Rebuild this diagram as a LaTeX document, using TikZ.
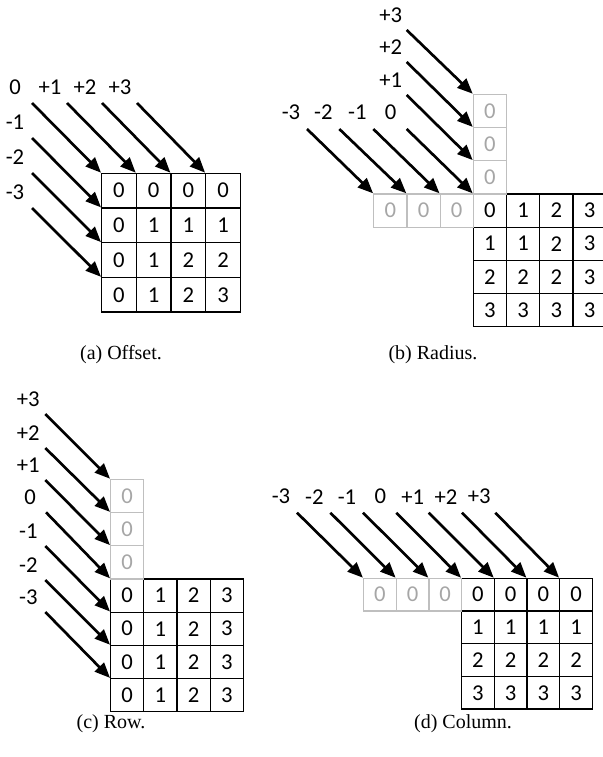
\documentclass[tikz,border=0pt]{standalone}
\usepackage{fontspec}
\setmainfont{Carlito}
\newfontfamily\capfont{Liberation Serif}
\usetikzlibrary{arrows.meta}
\definecolor{ghostline}{HTML}{BFBFBF}
\definecolor{ghosttext}{HTML}{A6A6A6}

\begin{document}
\begin{tikzpicture}[x=0.75pt,y=-0.75pt,
    cell/.style={draw,line width=0.9pt,minimum size=#1,inner sep=0pt,anchor=north west,font=\fontsize{17}{19}\selectfont},
    cell/.default=24.9pt,
    ghost/.style={cell=#1,draw=ghostline,text=ghosttext},
    ghost/.default=24.9pt,
    lbl/.style={inner sep=1pt,font=\fontsize{17}{19}\selectfont},
    arr/.style={line width=2pt,-{Triangle[length=11.5pt,width=9.5pt]}},
    subcap/.style={font=\capfont\fontsize{15}{17}\selectfont}]
  \useasboundingbox (0,0) rectangle (603,757);

  % (a) offset
  \foreach \r in {0,...,3}
    \foreach \c in {0,...,3}{
      \pgfmathtruncatemacro\v{min(\r,\c)}
      \node[cell=26pt] (a\r\c) at (101+34.7*\c,172.7+34.7*\r) {\v};
    }
  \foreach \t [count=\i from 0] in {0,+1,+2,+3}{
    \node[lbl] (la\i) at (15+35*\i,87) {\t};
    \draw[arr] ([shift={(17,16)}]la\i.center) -- (a0\i.north west);
  }
  \foreach \i/\y in {1/122,2/157,3/192}{
    \node[lbl] (lam\i) at (15,\y) {-\i};
    \draw[arr] ([shift={(17,16)}]lam\i.center) -- (a\i0.north west);
  }
  \node[subcap] (capa) at (121,355) {(a) Offset.};

  % (b) radius
  \foreach \r in {0,...,3}
    \foreach \c in {0,...,3}{
      \pgfmathtruncatemacro\v{max(\r,\c)}
      \node[cell] (b\r\c) at (472.7+33.2*\c,193.3+33.2*\r) {\v};
    }
  \foreach \k in {1,2,3}{
    \node[ghost] (bt\k) at (472.7,193.3-33.2*\k) {0};
    \node[ghost] (bl\k) at (472.7-33.2*\k,193.3) {0};
  }
  \node[lbl] (lb0) at (390.7,112) {0};
  \draw[arr] ([shift={(16,17)}]lb0.center) -- (b00.north west);
  \foreach \k/\y in {1/80,2/47,3/15}{
    \node[lbl] (lbp\k) at (390.7,\y) {+\k};
    \draw[arr] ([shift={(16,15)}]lbp\k.center) -- (bt\k.north west);
  }
  \foreach \k/\x in {1/357.3,2/323.3,3/291}{
    \node[lbl] (lbm\k) at (\x,112) {-\k};
    \draw[arr] ([shift={(16,17)}]lbm\k.center) -- (bl\k.north west);
  }
  \node[subcap] (capb) at (433,355) {(b) Radius.};

  % (c) row
  \foreach \r in {0,...,3}
    \foreach \c in {0,...,3}
      \node[cell] (c\r\c) at (110+33.2*\c,578.3+33.2*\r) {\c};
  \foreach \k in {1,2,3}
    \node[ghost] (ct\k) at (110,578.3-33.2*\k) {0};
  \node[lbl] (lc0) at (30,497.3) {0};
  \draw[arr] ([shift={(16,15)}]lc0.center) -- (c00.north west);
  \foreach \k/\y in {1/465,2/433,3/399}{
    \node[lbl] (lcp\k) at (28.3,\y) {+\k};
    \draw[arr] ([shift={(17,15)}]lcp\k.center) -- (ct\k.north west);
  }
  \foreach \k/\y in {1/531,2/565,3/597}{
    \node[lbl] (lcm\k) at (28.3,\y) {-\k};
    \draw[arr] ([shift={(17,15)}]lcm\k.center) -- (c\k0.north west);
  }
  \node[subcap] (capc) at (111,724) {(c) Row.};

  % (d) column
  \foreach \r in {0,...,3}
    \foreach \c in {0,...,3}
      \node[cell=24.5pt] (d\r\c) at (461+32.7*\c,577.7+32.7*\r) {\r};
  \foreach \k in {1,2,3}
    \node[ghost=24.5pt] (dl\k) at (461-32.7*\k,577.7) {0};
  \node[lbl] (ld0) at (380.3,496.7) {0};
  \draw[arr] ([shift={(16,16)}]ld0.center) -- (d00.north west);
  \foreach \k/\x in {1/412.7,2/446,3/479.3}{
    \node[lbl] (ldp\k) at (\x,496.7) {+\k};
    \draw[arr] ([shift={(16,16)}]ldp\k.center) -- (d0\k.north west);
  }
  \foreach \k/\x in {1/347,2/314.3,3/281}{
    \node[lbl] (ldm\k) at (\x,496.7) {-\k};
    \draw[arr] ([shift={(16,16)}]ldm\k.center) -- (dl\k.north west);
  }
  \node[subcap] (capd) at (463,724) {(d) Column.};
\end{tikzpicture}
\end{document}
